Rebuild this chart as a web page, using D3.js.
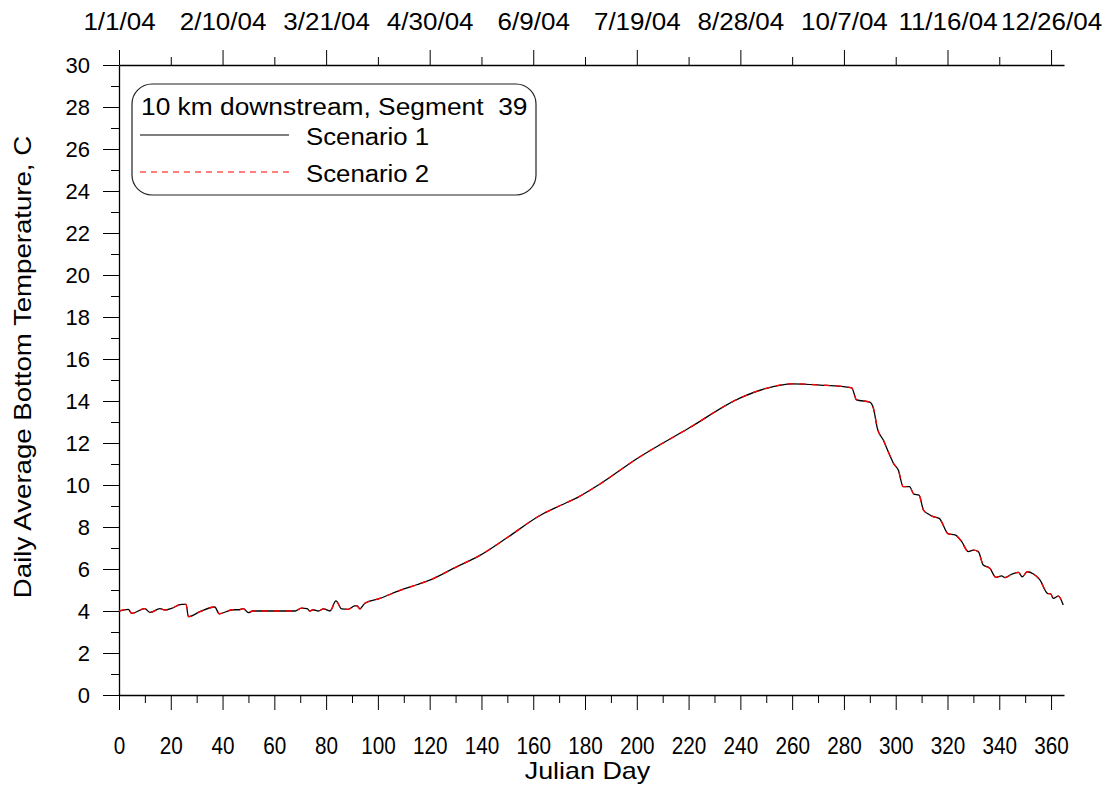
<!DOCTYPE html>
<html>
<head>
<meta charset="utf-8">
<script src="https://cdn.jsdelivr.net/npm/d3@7"></script>
<style>
  html, body { margin: 0; padding: 0; background: #fff; }
  svg { display: block; font-family: "Liberation Sans", Arial, sans-serif; }
  text { white-space: pre; }
</style>
</head>
<body>
<svg id="chart" width="1109" height="787"></svg>
<script>
// ---- data ----
const julianDays = [0, 3.6, 4.9, 10, 12, 15.8, 17.8, 20.3, 24.2, 25.9, 26.8, 31.3, 37, 38.7, 44, 46.5, 48, 50, 51.6, 68,
  70.5, 72.7, 73.7, 75, 77, 79, 81.5, 83.8, 86, 88.5, 91, 92, 93, 95, 100.8, 108.5, 115, 120, 130, 139.4,
  150, 162.6, 170, 177, 185.8, 200, 220, 240, 250, 260, 270.8, 283, 284.9, 290, 291.4, 292.9, 295.2, 297.5, 299.3,
  301, 302.9, 305.3, 307, 309, 310.7, 312.6, 314.5, 316.8, 320.3, 322.9, 325.5, 328, 330, 331.9, 333.8, 336.4,
  338.7, 340.9, 342.2, 344.8, 347.4, 348.9, 350.8, 353.2, 355.7, 358.6, 359.9, 360.9, 362.8, 364.7];
const scenario1 = [4.0, 4.08, 3.89, 4.11, 3.93, 4.11, 4.05, 4.13, 4.32, 4.32, 3.73, 3.97, 4.19, 3.87, 4.06, 4.06, 4.11, 3.92, 4.0, 4.0,
  4.14, 4.11, 4.0, 4.06, 4.0, 4.1, 4.0, 4.48, 4.1, 4.08, 4.24, 4.24, 4.1, 4.37, 4.6, 4.98, 5.25, 5.47, 6.08, 6.65,
  7.5, 8.55, 9.0, 9.4, 10.05, 11.25, 12.7, 14.15, 14.6, 14.82, 14.76, 14.63, 14.05, 13.95, 13.65, 12.7, 12.14, 11.48, 11.0,
  10.71, 9.92, 9.92, 9.57, 9.52, 8.81, 8.62, 8.49, 8.41, 7.67, 7.62, 7.3, 6.83, 6.9, 6.83, 6.19, 6.03,
  5.6, 5.67, 5.59, 5.75, 5.84, 5.63, 5.87, 5.76, 5.48, 4.84, 4.81, 4.6, 4.71, 4.29];
const scenario2 = [4.0, 4.08, 3.89, 4.11, 3.93, 4.11, 4.05, 4.13, 4.32, 4.32, 3.73, 3.97, 4.19, 3.87, 4.06, 4.06, 4.11, 3.92, 4.0, 4.0,
  4.14, 4.11, 4.0, 4.06, 4.0, 4.1, 4.0, 4.48, 4.1, 4.08, 4.24, 4.24, 4.1, 4.37, 4.6, 4.98, 5.25, 5.47, 6.08, 6.65,
  7.5, 8.55, 9.0, 9.4, 10.05, 11.25, 12.7, 14.15, 14.6, 14.82, 14.76, 14.63, 14.05, 13.95, 13.65, 12.7, 12.14, 11.48, 11.0,
  10.71, 9.92, 9.92, 9.57, 9.52, 8.81, 8.62, 8.49, 8.41, 7.67, 7.62, 7.3, 6.83, 6.9, 6.83, 6.19, 6.03,
  5.6, 5.67, 5.59, 5.75, 5.84, 5.63, 5.87, 5.76, 5.48, 4.84, 4.81, 4.6, 4.71, 4.29];
const bottomTicks = [0, 20, 40, 60, 80, 100, 120, 140, 160, 180, 200, 220, 240, 260, 280, 300, 320, 340, 360];
const topTickDays = [0, 40, 80, 120, 160, 200, 240, 280, 320, 360];
const topTickLabels = ["1/1/04", "2/10/04", "3/21/04", "4/30/04", "6/9/04", "7/19/04", "8/28/04", "10/7/04", "11/16/04", "12/26/04"];
const yTicks = [0, 2, 4, 6, 8, 10, 12, 14, 16, 18, 20, 22, 24, 26, 28, 30];
const seriesNames = ["Scenario 1", "Scenario 2"];
const legendTitle = "10 km downstream, Segment  39";
const xTitle = "Julian Day";
const yTitle = "Daily Average Bottom Temperature, C";

// ---- layout ----
const M = { left: 119, right: 1064, top: 65, bottom: 695 };
const svg = d3.select("#chart");
const x = d3.scaleLinear().domain([0, 365]).range([M.left, M.right]);
const y = d3.scaleLinear().domain([0, 30]).range([M.bottom, M.top]);
const FONT = "Liberation Sans, Arial, sans-serif";

function stretch(sel, f) {
  sel.each(function () {
    const len = this.getComputedTextLength();
    this.setAttribute("textLength", len * f);
    this.setAttribute("lengthAdjust", "spacingAndGlyphs");
  });
}

function styleAxis(g) {
  g.select(".domain").attr("stroke", "#000").attr("stroke-width", 1.3);
  g.selectAll(".tick line").attr("stroke", "#000").attr("stroke-width", 1);
}

// bottom axis: minor ticks every 10
const gbMinor = svg.append("g").attr("transform", `translate(0,${M.bottom})`)
  .call(d3.axisBottom(x).tickValues(d3.range(10, 361, 20)).tickSize(8).tickSizeOuter(0).tickFormat(""));
gbMinor.select(".domain").remove();
gbMinor.selectAll(".tick line").attr("stroke", "#000");
const gb = svg.append("g").attr("transform", `translate(0,${M.bottom})`)
  .call(d3.axisBottom(x).tickValues(bottomTicks).tickSize(15).tickSizeOuter(0).tickPadding(28));
styleAxis(gb);
gb.selectAll(".tick text").attr("font-size", 23).attr("fill", "#000").attr("font-family", FONT)
  .call(stretch, 0.9);

// top axis
const gtMinor = svg.append("g").attr("transform", `translate(0,${M.top})`)
  .call(d3.axisTop(x).tickValues(d3.range(20, 361, 40)).tickSize(8).tickSizeOuter(0).tickFormat(""));
gtMinor.select(".domain").remove();
gtMinor.selectAll(".tick line").attr("stroke", "#000");
const gt = svg.append("g").attr("transform", `translate(0,${M.top})`)
  .call(d3.axisTop(x).tickValues(topTickDays).tickSize(15).tickSizeOuter(0).tickPadding(20)
    .tickFormat((d, i) => topTickLabels[i]));
styleAxis(gt);
gt.selectAll(".tick text").attr("font-size", 23).attr("fill", "#000").attr("font-family", FONT)
  .call(stretch, 1.13);

// left axis
const glMinor = svg.append("g").attr("transform", `translate(${M.left},0)`)
  .call(d3.axisLeft(y).tickValues(d3.range(1, 30, 2)).tickSize(8).tickSizeOuter(0).tickFormat(""));
glMinor.select(".domain").remove();
glMinor.selectAll(".tick line").attr("stroke", "#000");
const gl = svg.append("g").attr("transform", `translate(${M.left},0)`)
  .call(d3.axisLeft(y).tickValues(yTicks).tickSize(16).tickSizeOuter(0).tickPadding(13));
styleAxis(gl);
gl.selectAll(".tick text").attr("font-size", 22).attr("fill", "#000").attr("font-family", FONT);

// titles
svg.append("text").attr("x", (M.left + M.right) / 2 - 4).attr("y", 779).attr("text-anchor", "middle")
  .attr("font-size", 24).text(xTitle).call(stretch, 1.12);
svg.append("text").attr("transform", `translate(31,367) rotate(-90)`).attr("text-anchor", "middle")
  .attr("font-size", 24).text(yTitle).call(stretch, 1.15);

// lines
const pts1 = julianDays.map((d, i) => [d, scenario1[i]]);
const pts2 = julianDays.map((d, i) => [d, scenario2[i]]);
const line = d3.line().x(d => x(d[0])).y(d => y(d[1])).curve(d3.curveMonotoneX);
svg.append("path").attr("d", line(pts1)).attr("fill", "none").attr("stroke", "#000").attr("stroke-width", 1.3);
svg.append("path").attr("d", line(pts2)).attr("fill", "none").attr("stroke", "#ff0000").attr("stroke-width", 1.3)
  .attr("stroke-dasharray", "6,6");

// legend
svg.append("rect").attr("x", 132).attr("y", 84).attr("width", 404).attr("height", 111)
  .attr("rx", 20).attr("ry", 20).attr("fill", "#fff").attr("stroke", "#222").attr("stroke-width", 1.2);
svg.append("text").attr("x", 141).attr("y", 115).attr("font-size", 23).text(legendTitle).call(stretch, 1.145);
const legColors = ["#000", "#ff0000"];
const legDash = [null, "6,5"];
seriesNames.forEach((name, i) => {
  const ly = 135 + i * 37;
  svg.append("line").attr("x1", 140).attr("x2", 289).attr("y1", ly).attr("y2", ly)
    .attr("stroke", legColors[i]).attr("stroke-width", 1.2).attr("stroke-dasharray", legDash[i]);
  svg.append("text").attr("x", 306).attr("y", ly + 10).attr("font-size", 23).text(name).call(stretch, 1.12);
});
</script>
</body>
</html>
